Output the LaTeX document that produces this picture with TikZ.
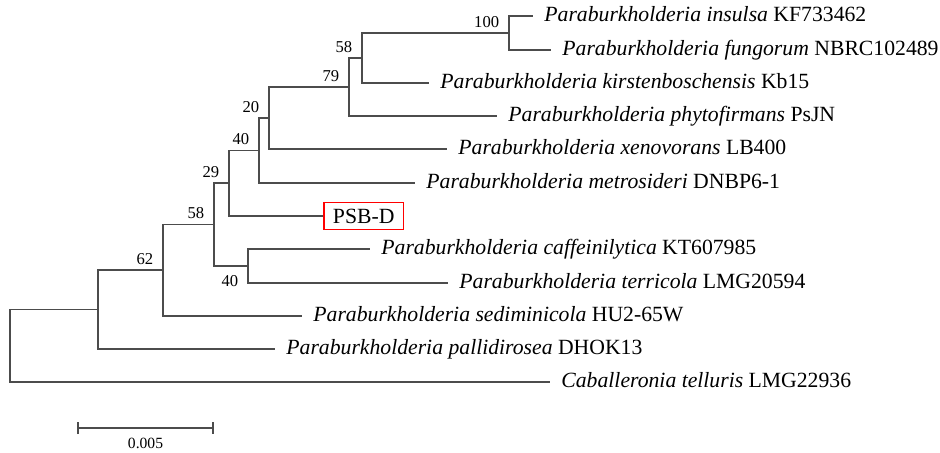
\documentclass[tikz,border=0pt]{standalone}
\usepackage{fontspec}
\setmainfont{Liberation Serif}
\usetikzlibrary{arrows.meta, positioning}

\begin{document}
\begin{tikzpicture}[
    x=0.5pt, y=-0.5pt,
    branch/.style={draw=black!70, line width=0.9pt},
    leaf/.style={anchor=west, inner xsep=5.5pt, inner ysep=0pt, text height=7.2pt,
      text depth=2pt, font=\fontsize{10.85}{13}\selectfont},
    boot/.style={anchor=base east, inner sep=0pt, xshift=-4.75pt, yshift=3pt,
      font=\fontsize{8.3}{10}\selectfont},
    query/.style={anchor=west, draw=red, line width=0.75pt, inner xsep=4.6pt,
      inner ysep=0pt, minimum height=13.5pt, text height=7.2pt, text depth=0pt,
      font=\fontsize{10.85}{13}\selectfont},
  ]
  \useasboundingbox (0,0) rectangle (940,452);

  \coordinate (n100) at (509,33);
  \coordinate (n58a) at (362,58);
  \coordinate (n79)  at (349,87);
  \coordinate (n20)  at (269,118);
  \coordinate (n40a) at (259,150.5);
  \coordinate (n29)  at (229,183);
  \coordinate (n58b) at (214,224.5);
  \coordinate (n40b) at (248,266);
  \coordinate (n62)  at (163,270);
  \coordinate (n0)   at (98,309.5);
  \coordinate (root) at (10,345.75);

  \node[leaf] (insulsa)  at (533,16)  {\textit{Paraburkholderia insulsa} KF733462};
  \node[leaf] (fungorum) at (551,50)  {\textit{Paraburkholderia fungorum} NBRC102489};
  \node[leaf] (kirsten)  at (429,83)  {\textit{Paraburkholderia kirstenboschensis} Kb15};
  \node[leaf] (phyto)    at (497,116) {\textit{Paraburkholderia phytofirmans} PsJN};
  \node[leaf] (xeno)     at (447,149) {\textit{Paraburkholderia xenovorans} LB400};
  \node[leaf] (metro)    at (415,183) {\textit{Paraburkholderia metrosideri} DNBP6-1};
  \node[query] (psbd)    at (323,216) {PSB-D};
  \node[leaf] (caff)     at (370,249) {\textit{Paraburkholderia caffeinilytica} KT607985};
  \node[leaf] (terri)    at (448,283) {\textit{Paraburkholderia terricola} LMG20594};
  \node[leaf] (sedimin)  at (302,316) {\textit{Paraburkholderia sediminicola} HU2-65W};
  \node[leaf] (pallid)   at (275,349) {\textit{Paraburkholderia pallidirosea} DHOK13};
  \node[leaf] (cab)      at (550,382) {\textit{Caballeronia telluris} LMG22936};

  \draw[branch] (n100) |- (insulsa.west) (n100) |- (fungorum.west);
  \draw[branch] (n58a) |- (n100) (n58a) |- (kirsten.west);
  \draw[branch] (n79) |- (n58a) (n79) |- (phyto.west);
  \draw[branch] (n20) |- (n79) (n20) |- (xeno.west);
  \draw[branch] (n40a) |- (n20) (n40a) |- (metro.west);
  \draw[branch] (n29) |- (n40a) (n29) |- (psbd.west);
  \draw[branch] (n40b) |- (caff.west) (n40b) |- (terri.west);
  \draw[branch] (n58b) |- (n29) (n58b) |- (n40b);
  \draw[branch] (n62) |- (n58b) (n62) |- (sedimin.west);
  \draw[branch] (n0) |- (n62) (n0) |- (pallid.west);
  \draw[branch] (root) |- (n0) (root) |- (cab.west);

  \node[boot] (b100) at (n100) {100};
  \node[boot] (b58a) at (n58a) {58};
  \node[boot] (b79)  at (n79)  {79};
  \node[boot] (b20)  at (n20)  {20};
  \node[boot] (b40a) at (n40a) {40};
  \node[boot] (b29)  at (n29)  {29};
  \node[boot] (b58b) at (n58b) {58};
  \node[boot, yshift=-13.3pt] (b40b) at (n40b) {40};
  \node[boot] (b62)  at (n62)  {62};

  \coordinate (sbl) at (77,428);
  \coordinate (sbr) at (214,428);
  \draw[branch, {Bar[width=6pt]}-{Bar[width=6pt]}] (sbl) -- (sbr);
  \node[font=\fontsize{7.8}{9}\selectfont, inner sep=0pt] (sblab) at (145.5,443) {0.005};
\end{tikzpicture}
\end{document}
